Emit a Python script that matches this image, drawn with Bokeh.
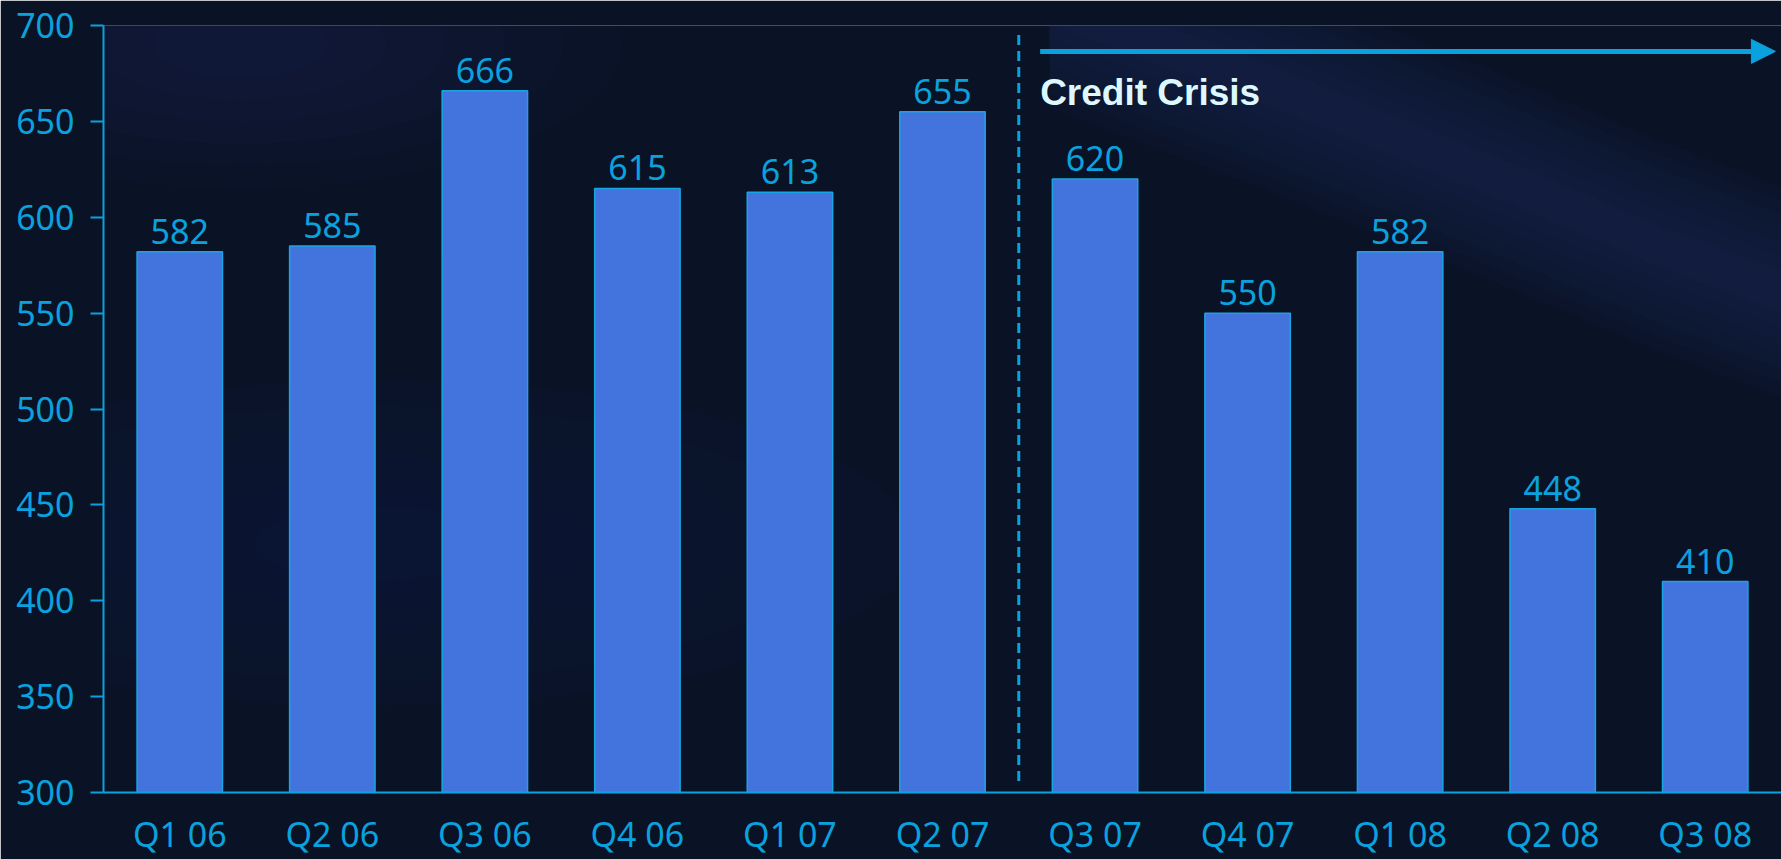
import numpy as np
from bokeh.plotting import figure
from bokeh.models import FactorRange, Range1d, Arrow, NormalHead, FixedTicker, Label
from bokeh.core.properties import value
from bokeh.embed import file_html
from bokeh.resources import INLINE

quarters = ["Q1 06", "Q2 06", "Q3 06", "Q4 06", "Q1 07", "Q2 07",
            "Q3 07", "Q4 07", "Q1 08", "Q2 08", "Q3 08"]
values = [582, 585, 666, 615, 613, 655, 620, 550, 582, 448, 410]
y_ticks = [300, 350, 400, 450, 500, 550, 600, 650, 700]
crisis_label = "Credit Crisis"
crisis_start = "Q3 07"

BG = "#0A1226"
BLUE = "#0AA2DE"
BAR = "#4373DD"
FONT = "Noto Sans"

p = figure(
    x_range=FactorRange(factors=quarters, range_padding=0),
    y_range=Range1d(300, 700),
    width=1781, height=859,
    output_backend="svg", toolbar_location=None,
    min_border_left=103, min_border_right=0, min_border_top=25, min_border_bottom=64,
    background_fill_color=BG, border_fill_color=BG, outline_line_color=None,
)

p.xgrid.grid_line_color = None
p.ygrid.grid_line_color = None

# --- soft decorative background swirls (feathered by layering) ---
cx = np.array([6.2, 7.6, 9.0, 10.2, 11.2])
cy = np.array([712, 670, 625, 585, 555])
for k in range(7):
    hw = 55 * (1 - k / 7.5)
    p.patch(x=list(cx) + list(cx[::-1]), y=list(cy + hw) + list((cy - hw)[::-1]),
            fill_color="#2D4F93", fill_alpha=0.045, line_color=None)
for k in range(6):
    s = 1 - k / 6.5
    p.ellipse(x=[0.9], y=[690], width=5.0 * s, height=150 * s,
              fill_color="#1F3569", fill_alpha=0.06, line_color=None)
    p.ellipse(x=[1.8], y=[430], width=7.0 * s, height=170 * s,
              fill_color="#1A2D5A", fill_alpha=0.05, line_color=None)

p.vbar(x=quarters, top=values, bottom=300, width=0.56,
       fill_color=BAR, line_color="#18A6E2", line_width=1.5)

p.text(x=quarters, y=values, text=[str(v) for v in values],
       text_align="center", text_baseline="bottom", y_offset=-8,
       text_color=BLUE, text_font=value(FONT), text_font_size="34px")

# axes
p.yaxis.ticker = FixedTicker(ticks=y_ticks)
for ax in (p.xaxis[0], p.yaxis[0]):
    ax.axis_line_color = BLUE
    ax.axis_line_width = 2
    ax.major_tick_line_color = BLUE
    ax.major_tick_line_width = 2
    ax.minor_tick_line_color = None
    ax.major_label_text_color = BLUE
    ax.major_label_text_font = FONT
    ax.major_label_text_font_size = "34px"
p.yaxis.major_tick_out = 13
p.yaxis.major_tick_in = 0
p.yaxis.major_label_standoff = 16
p.xaxis.major_tick_out = 0
p.xaxis.major_tick_in = 0
p.xaxis.major_label_standoff = 18

# crisis divider (boundary between Q2 07 and Q3 07)
idx = quarters.index(crisis_start)
p.segment(x0=[idx], y0=[306], x1=[idx], y1=[696],
          line_color=BLUE, line_width=3, line_dash="10 6")

p.add_layout(Arrow(x_start=idx + 0.14, y_start=686.5, x_end=len(quarters) - 0.04, y_end=686.5,
                   line_color=BLUE, line_width=5,
                   end=NormalHead(size=24, fill_color=BLUE, line_color=BLUE)))

p.add_layout(Label(x=idx + 0.14, y=665, text=crisis_label,
                   text_color="#DDF8FF", text_font="Liberation Sans",
                   text_font_style="bold", text_font_size="37px",
                   text_baseline="alphabetic"))

open("out.html", "w").write(file_html(p, INLINE))
